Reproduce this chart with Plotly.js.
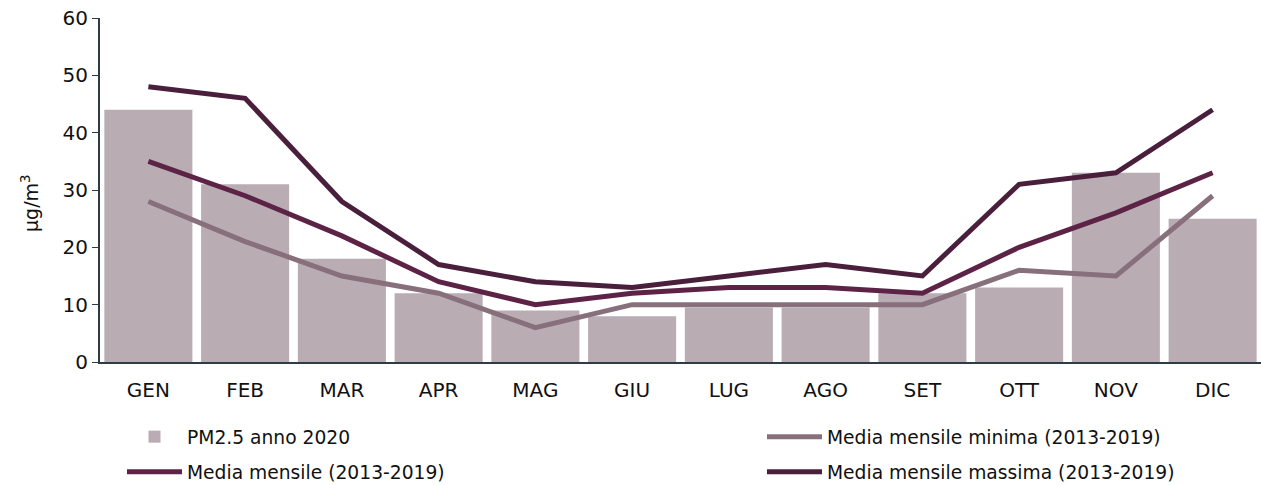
<!DOCTYPE html>
<html>
<head>
<meta charset="utf-8">
<script src="https://cdn.plot.ly/plotly-3.0.1.min.js"></script>
<style>html,body{margin:0;padding:0;background:#fff;}#chart{width:1261px;height:485px;}</style>
</head>
<body>
<div id="chart"></div>
<script>
const months = ["GEN","FEB","MAR","APR","MAG","GIU","LUG","AGO","SET","OTT","NOV","DIC"];
const pm25_2020 = [44, 31, 18, 12, 9, 8, 9.5, 9.5, 12, 13, 33, 25];
const mediaMinima = [28, 21, 15, 12, 6, 10, 10, 10, 10, 16, 15, 29];
const mediaMensile = [35, 29, 22, 14, 10, 12, 13, 13, 12, 20, 26, 33];
const mediaMassima = [48, 46, 28, 17, 14, 13, 15, 17, 15, 31, 33, 44];
const yTitle = "µg/m<sup>3</sup>";

const font = "DejaVu Sans, Verdana, sans-serif";
const W = 1261, H = 485;
const M = {l:100, r:0, t:18, b:123};
const traces = [
  {type:"bar", x:months, y:pm25_2020, name:"PM2.5 anno 2020",
   marker:{color:"#b9adb3"}, legend:"legend"},
  {type:"scatter", mode:"lines", x:months, y:mediaMinima, name:"Media mensile minima (2013-2019)",
   line:{color:"#87707c", width:5}, legend:"legend2"},
  {type:"scatter", mode:"lines", x:months, y:mediaMensile, name:"Media mensile (2013-2019)",
   line:{color:"#5d2347", width:5}, legend:"legend3"},
  {type:"scatter", mode:"lines", x:months, y:mediaMassima, name:"Media mensile massima (2013-2019)",
   line:{color:"#4a1f3b", width:5}, legend:"legend4"}
];
function leg(px, py){
  return {xref:"container", yref:"container", x:px/W, y:1-py/H, xanchor:"left", yanchor:"middle",
          bgcolor:"rgba(0,0,0,0)", borderwidth:0, itemwidth:55,
          font:{family:font, size:18.7, color:"#111"}};
}
const pw = W - M.l - M.r, ph = H - M.t - M.b;
const layout = {
  width:W, height:H,
  margin:{l:M.l, r:M.r, t:M.t, b:M.b, autoexpand:false},
  paper_bgcolor:"#fff", plot_bgcolor:"#fff",
  bargap:0.09,
  font:{family:font, color:"#111", size:18},
  showlegend:true,
  legend: leg(122, 437),
  legend2: leg(762, 437),
  legend3: leg(122, 472),
  legend4: leg(762, 472),
  xaxis:{type:"category", showline:true, linecolor:"#2e3c46", linewidth:2, ticks:"",
         tickfont:{family:font, size:20, color:"#111"}, showgrid:false, zeroline:false,
         ticklabelstandoff:9},
  yaxis:{range:[0,60], dtick:10, showline:true, linecolor:"#2e3c46", linewidth:2,
         ticks:"outside", ticklen:6, tickcolor:"#2e3c46", showgrid:false, zeroline:false,
         tickfont:{family:font, size:20, color:"#111"}},
  annotations:[{text:yTitle, textangle:-90, showarrow:false, xref:"paper", yref:"paper",
                x:(30 - M.l)/pw, y:(H - M.b - 203)/ph, xanchor:"center", yanchor:"middle",
                font:{family:font, size:19, color:"#111"}}]
};
Plotly.newPlot("chart", traces, layout, {displayModeBar:false, staticPlot:true});
</script>
</body>
</html>
